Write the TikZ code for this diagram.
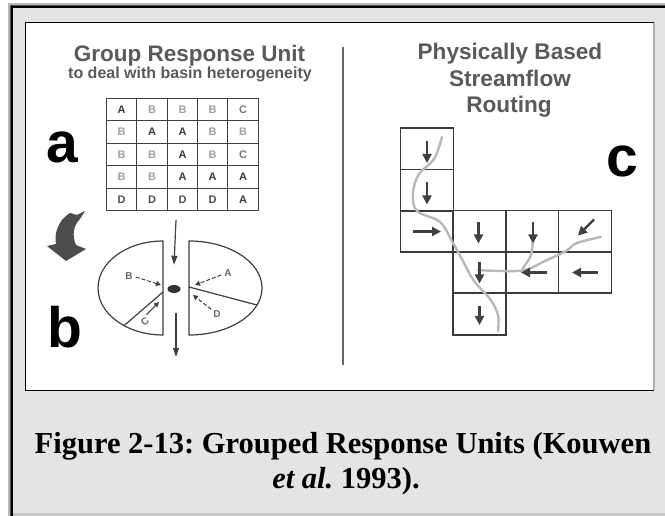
\documentclass[tikz,border=0pt]{standalone}
\usepackage{fontspec}
\setmainfont{Liberation Serif}
\setsansfont{Liberation Sans}
\usetikzlibrary{arrows.meta,calc,shapes.geometric}
\frenchspacing
\definecolor{bgray}{HTML}{E4E4E4}
\definecolor{titlegray}{HTML}{5A5A5A}
\definecolor{linegray}{HTML}{404040}
\definecolor{rivergray}{HTML}{B8B8B8}
\definecolor{lA}{HTML}{3C3C3C}
\definecolor{lB}{HTML}{A0A0A0}
\definecolor{lC}{HTML}{7A7A7A}
\definecolor{lD}{HTML}{505050}
\tikzset{
  ttl/.style={font=\sffamily\bfseries\fontsize{22.5}{26}\selectfont, text=titlegray, inner sep=0pt, anchor=base},
  subttl/.style={font=\sffamily\bfseries\fontsize{16}{18}\selectfont, text=titlegray, inner sep=0pt, anchor=base},
  rttl/.style={font=\sffamily\bfseries\fontsize{22.6}{26}\selectfont, text=titlegray, inner sep=0pt, anchor=base},
  biglet/.style={font=\sffamily\bfseries\fontsize{57}{60}\selectfont, text=black, inner sep=0pt, anchor=base},
  cella/.style={draw=linegray, line width=1.1pt, minimum width=30.4pt, minimum height=22.6pt, inner sep=0pt, font=\sffamily\bfseries\fontsize{11}{11}\selectfont},
  cellc/.style={draw=linegray!90!black, line width=1.5pt, minimum width=52.7pt, minimum height=41.5pt, inner sep=0pt},
  flow/.style={draw=linegray, line width=2.2pt, -{Triangle[width=9pt,length=9pt]}},
  river/.style={draw=rivergray, line width=2.4pt, line cap=round, line join=round},
  pie/.style={draw=linegray, line width=1.2pt},
  small/.style={font=\sffamily\bfseries\fontsize{10}{10}\selectfont, text=linegray!80, inner sep=0pt},
  smallarr/.style={draw=linegray, line width=1pt, -{Triangle[width=5pt,length=5pt]}},
  bigarr/.style={draw=linegray, line width=1.2pt, -{Triangle[width=6pt,length=9pt]}},
  captxt/.style={font=\rmfamily\bfseries\fontsize{30.5}{35}\selectfont, inner sep=0pt, anchor=base}
}
\begin{document}
\begin{tikzpicture}[x=1pt,y=-1pt]
\useasboundingbox (0,0) rectangle (665,516);
% outer frame
\fill[white] (0,0) rectangle (665,516);
\fill[gray!55] (8,3) rectangle (665,516);
\fill[black!70] (10,5) rectangle (665,516);
\fill[black] (11,6) rectangle (665,516);
\fill[bgray] (13,8) rectangle (665,513);
\fill[gray!45] (13,513) rectangle (665,516);
% white panel
\fill[white] (25,23) rectangle (654,390);
\draw[gray!60, line width=2pt] (654,23) -- (654,390);
\draw[black, line width=1pt] (654,23) -- (25,23) -- (25,390) -- (654,390);

% divider
\draw[linegray!80, line width=1.4pt] (343,47) -- (343,365);

% titles
\node[ttl] (t1) at (189.5,62) {Group Response Unit};
\node[subttl] (t2) at (190,79) {to deal with basin heterogeneity};
\node[rttl] (t3) at (510,60) {Physically Based};
\node[rttl] (t4) at (510,87) {Streamflow};
\node[rttl] (t5) at (509,113) {Routing};

% big letters
\node[biglet] (la) at (62,163) {a};
\node[biglet] (lb) at (65,347) {b};
\node[biglet] (lc) at (622,177) {c};

% grid a
\foreach \r/\y in {1/109.5,2/132,3/154.5,4/177,5/199.5}{
  \foreach \c/\x in {1/121.5,2/152,3/182.5,4/212.5,5/243}{
    \node[cella] (a\r\c) at (\x,\y) {};
  }
}
\node[text=lA, font=\sffamily\bfseries\fontsize{11}{11}\selectfont] at (a11) {A};
\foreach \n/\t/\col in {a12/B/lB,a13/B/lB,a14/B/lB,a15/C/lC,
  a21/B/lB,a22/A/lA,a23/A/lA,a24/B/lB,a25/B/lB,
  a31/B/lB,a32/B/lB,a33/A/lA,a34/B/lB,a35/C/lC,
  a41/B/lB,a42/B/lB,a43/A/lA,a44/A/lA,a45/A/lA,
  a51/D/lD,a52/D/lD,a53/D/lD,a54/D/lD,a55/A/lA}{
  \node[text=\col, font=\sffamily\bfseries\fontsize{11}{11}\selectfont] at (\n) {\t};
}

% crescent arrow
\fill[black!70] (70,213) .. controls (58,220) and (54,234) .. (56,244)
  -- (47,246) -- (66,261) -- (86,249) -- (76,245)
  .. controls (72,236) and (73,226) .. (80,219) -- (85,211) -- (77,215) -- cycle;

% part b
\draw[pie] (163,241) .. controls (127.1,241) and (98,262) .. (98,288)
  .. controls (98,314) and (127.1,335) .. (163,335) -- cycle;
\draw[pie] (189,241) .. controls (229.3,241) and (262,262) .. (262,288)
  .. controls (262,314) and (229.3,335) .. (189,335) -- cycle;
\draw[pie] (163,292) -- (124,325.6);
\draw[pie] (189,287) -- (257,305);
\node[ellipse, fill=black!80, minimum width=13pt, minimum height=8pt, inner sep=0pt] (dot) at (174,289) {};
\coordinate (va1) at (176,220);
\coordinate (va2) at (176,313);
\coordinate (vb2) at (176,357);
\draw[bigarr] (va1) -- ($(dot.north)+(0,-20)$);
\draw[bigarr] (va2) -- (vb2);

\node[small] (pB) at (129,276) {B};
\node[small] (pA) at (228,273) {A};
\node[small] (pD) at (217,314) {D};
\node[small, rotate=40] (pC) at (145,322) {C};
\coordinate (eB) at (161,285);
\coordinate (eA) at (195,285);
\coordinate (eD) at (193,295);
\coordinate (eC) at (159,302);
\draw[smallarr, dash pattern=on 4pt off 2pt] (pB.east) ++(3,1) -- (eB);
\draw[smallarr, dash pattern=on 4pt off 2pt] (pA.west) ++(-3,2) -- (eA);
\draw[smallarr, dash pattern=on 4pt off 2pt] (pD.north west) ++(-2,-1) -- (eD);
\draw[smallarr] (pC.north east) ++(1,-2) -- (eC);

% part c cells
\node[cellc] (c10) at (427,149) {};
\node[cellc] (c20) at (427,190.5) {};
\node[cellc] (c30) at (427,231.5) {};
\node[cellc] (c31) at (479.5,231.5) {};
\node[cellc] (c32) at (532,231.5) {};
\node[cellc] (c33) at (585,231.5) {};
\node[cellc] (c41) at (479.5,272.5) {};
\node[cellc] (c42) at (532,272.5) {};
\node[cellc] (c43) at (585,272.5) {};
\node[cellc] (c51) at (479.5,314) {};

% river
\draw[river] plot[smooth, tension=0.6] coordinates {(442,137) (434,159) (419,174) (413,193) (417,211) (440,222) (453,243) (463,261) (474,281) (490,299) (498,315) (498,331)};
\draw[river] plot[smooth, tension=0.6] coordinates {(601,237) (577,243) (566,251) (545,261) (525,270) (500,271) (478,270)};
\draw[river] plot[smooth, tension=0.6] coordinates {(533,238) (531,255) (523,268)};

% flow arrows
\draw[flow] ($(c10.center)+(0,-8)$) -- ($(c10.center)+(0,14)$);
\draw[flow] ($(c20.center)+(0,-8)$) -- ($(c20.center)+(0,14)$);
\draw[flow] ($(c30.center)+(-14,0)$) -- ($(c30.center)+(14,0)$);
\draw[flow] ($(c31.center)+(-1,-9)$) -- ($(c31.center)+(-1,12)$);
\draw[flow] ($(c32.center)+(1,-9)$) -- ($(c32.center)+(1,12)$);
\draw[flow] ($(c33.center)+(9,-12)$) -- ($(c33.center)+(-7,4)$);
\draw[flow] ($(c41.center)+(0,-10)$) -- ($(c41.center)+(0,11)$);
\draw[flow] ($(c42.center)+(15,0)$) -- ($(c42.center)+(-11,0)$);
\draw[flow] ($(c43.center)+(13,0)$) -- ($(c43.center)+(-13,0)$);
\draw[flow] ($(c51.center)+(0,-8)$) -- ($(c51.center)+(0,11)$);

% caption
\node[captxt] (cap1) at (343,453) {Figure 2-13: Grouped Response Units (Kouwen};
\node[captxt] (cap2) at (346,488) {\textit{et al.} 1993).};
\end{tikzpicture}
\end{document}
